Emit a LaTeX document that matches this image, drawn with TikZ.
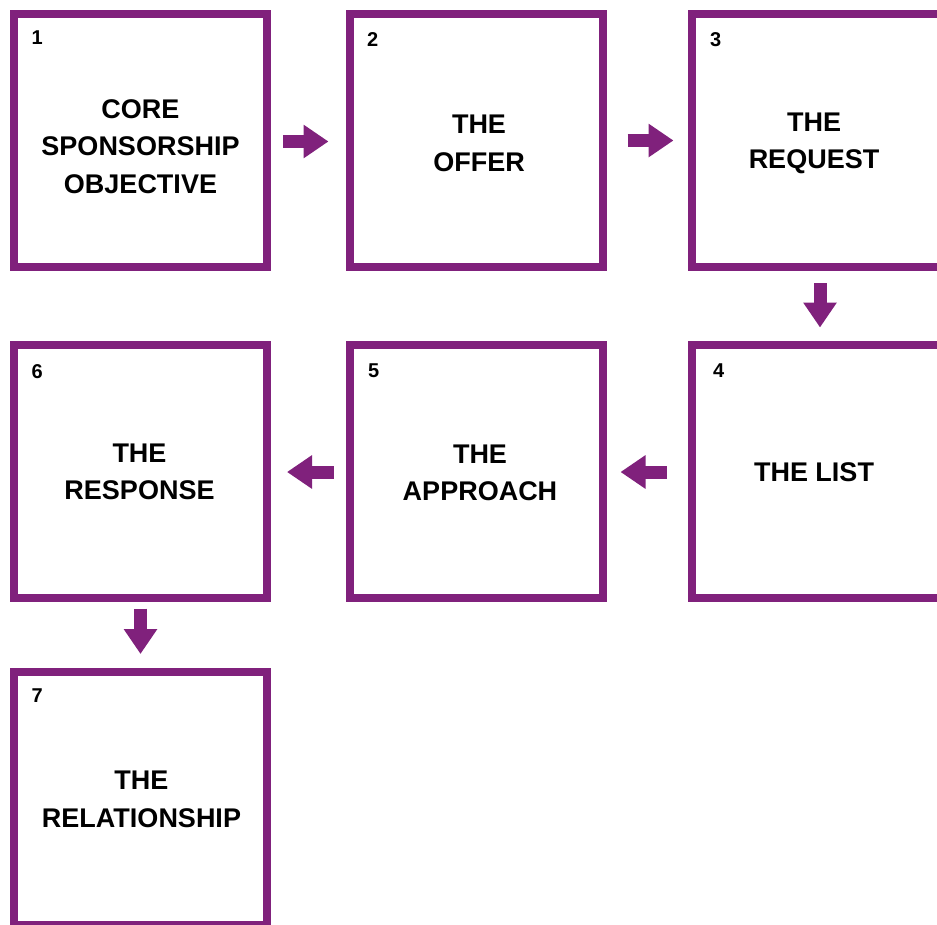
\documentclass[tikz,border=0pt]{standalone}
\usepackage{fontspec}
\setmainfont{Liberation Sans}
\usetikzlibrary{arrows.meta,calc}
\definecolor{plum}{RGB}{128,33,124}
\tikzset{
  stepbox/.style={draw=plum, line width=8pt, minimum width=253pt, minimum height=253pt, inner sep=0pt, fill=white},
  boxtext/.style={font=\bfseries\fontsize{27}{37.5}\selectfont, align=center, text=black},
  numlabel/.style={font=\bfseries\fontsize{20}{24}\selectfont, anchor=north west, inner sep=0pt, text=black},
  blockarr/.style={draw=plum, line width=13pt, line cap=butt, -{Triangle[length=25pt,width=32pt]}}
}
\begin{document}
\begin{tikzpicture}[x=1pt,y=-1pt]
\useasboundingbox (0,0) rectangle (937,924);
\clip (0,0) rectangle (937,924);
% boxes (centres)
\node[stepbox] (b1) at (140.5,140.5) {};
\node[stepbox] (b2) at (476,140.5) {};
\node[stepbox] (b3) at (818,140.5) {};
\node[stepbox] (b4) at (818,471) {};
\node[stepbox] (b5) at (476,471) {};
\node[stepbox] (b6) at (140.5,471) {};
\node[stepbox] (b7) at (140.5,798.5) {};
% numbers
\node[numlabel] (n1) at ($(b1.center)+(-109,-110)$) {1};
\node[numlabel] (n2) at ($(b2.center)+(-109,-108)$) {2};
\node[numlabel] (n3) at ($(b3.center)+(-108,-108)$) {3};
\node[numlabel] (n4) at ($(b4.center)+(-105,-107)$) {4};
\node[numlabel] (n5) at ($(b5.center)+(-108,-107)$) {5};
\node[numlabel] (n6) at ($(b6.center)+(-109,-107)$) {6};
\node[numlabel] (n7) at ($(b7.center)+(-109,-110)$) {7};
% texts
\node[boxtext] (t1) at ($(b1.center)+(0,6)$) {CORE\\SPONSORSHIP\\OBJECTIVE};
\node[boxtext] (t2) at ($(b2.center)+(3,3)$) {THE\\OFFER};
\node[boxtext] (t3) at ($(b3.center)+(-4,3)$) {THE\\REQUEST};
\node[boxtext] (t4) at ($(b4.center)+(-4,1)$) {THE LIST};
\node[boxtext] (t5) at ($(b5.center)+(4,2)$) {THE\\APPROACH};
\node[boxtext] (t6) at ($(b6.center)+(-1,1)$) {THE\\RESPONSE};
\node[boxtext] (t7) at ($(b7.center)+(1,1)$) {THE\\RELATIONSHIP};
% arrows
\draw[blockarr] ([xshift=12pt,yshift=-1pt]b1.east) -- ([xshift=-17pt,yshift=-1pt]b2.west);
\draw[blockarr] ([xshift=21pt]b2.east) -- ([xshift=-14pt]b3.west);
\draw[blockarr] ([xshift=2pt,yshift=-12pt]b3.south) -- ([xshift=2pt,yshift=13pt]b4.north);
\draw[blockarr] ([xshift=-21pt,yshift=-1pt]b4.west) -- ([xshift=14pt,yshift=-1pt]b5.east);
\draw[blockarr] ([xshift=-12pt,yshift=-1pt]b5.west) -- ([xshift=16pt,yshift=-1pt]b6.east);
\draw[blockarr] ([yshift=-7pt]b6.south) -- ([yshift=14pt]b7.north);
\end{tikzpicture}
\end{document}
